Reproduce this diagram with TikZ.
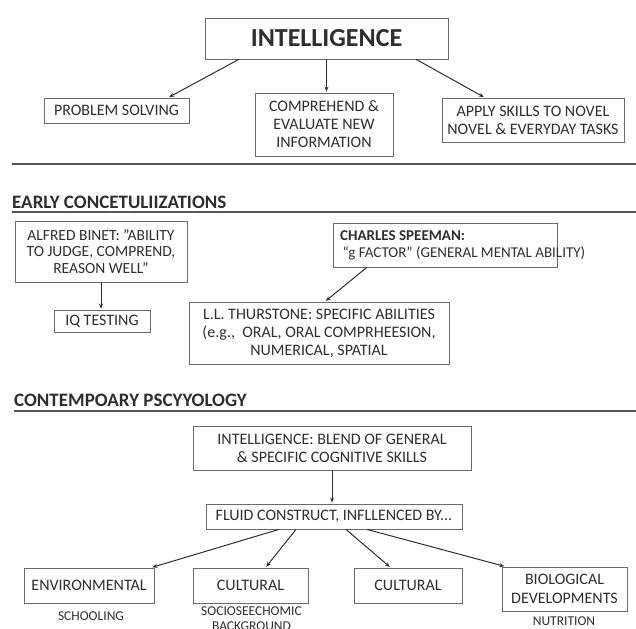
\documentclass[tikz,border=0pt]{standalone}
\usepackage{fontspec}
\setmainfont{Carlito}
\usetikzlibrary{calc,arrows.meta}
\definecolor{ink}{HTML}{2E2E2E}
\definecolor{frame}{HTML}{6A6A6A}
\definecolor{rulec}{HTML}{575757}
\begin{document}
\begin{tikzpicture}[x=1pt,y=-1pt,
  box/.style={draw=frame,line width=0.9pt,inner sep=0pt,align=center,text=ink,
    font=\fontsize{16}{18}\selectfont},
  sub/.style={inner sep=0pt,align=center,text=ink,font=\fontsize{13.5}{15}\selectfont},
  head/.style={inner sep=0pt,anchor=base west,text=ink,font=\bfseries\fontsize{19}{22}\selectfont},
  link/.style={draw=ink,line width=1pt,shorten >=1pt,-{Stealth[length=5pt,width=4pt]}},
  sectionrule/.style={draw=rulec,line width=2pt}]
\useasboundingbox (0,0) rectangle (636,628);

% top: definition of intelligence
\node[box,minimum width=243pt,minimum height=41pt,font=\bfseries\fontsize{26}{30}\selectfont]
  (intel) at (326.5,38.5) {INTELLIGENCE};
\node[box,minimum width=145pt,minimum height=25pt] (prob) at (116.5,110.5) {PROBLEM SOLVING};
\node[box,minimum width=138pt,minimum height=63pt] (comp) at (324,124.5)
  {COMPREHEND \&\\EVALUATE NEW\\INFORMATION};
\node[box,minimum width=182pt,minimum height=44pt] (apply) at (533,120)
  {APPLY SKILLS TO NOVEL\\NOVEL \& EVERYDAY TASKS};

\draw[link] ($(intel.south west)!0.14!(intel.south east)$) -- ($(prob.north west)!0.855!(prob.north east)$);
\draw[link] (intel.south) -- (intel.south |- comp.north);
\draw[link] ($(intel.south west)!0.868!(intel.south east)$) -- ($(apply.north west)!0.236!(apply.north east)$);

\draw[sectionrule] (12,164) -- (636,164);

% early conceptualizations
\node[head] (early) at (12,208) {EARLY CONCETULIIZATIONS};
\draw[sectionrule] (12,212) -- (636,212);

\node[box,minimum width=172pt,minimum height=61pt,font=\fontsize{15.5}{16.5}\selectfont]
  (binet) at (101,251.5)
  {ALFRED BINET: ''ABILITY\\TO JUDGE, COMPREND,\\REASON WELL''};
\node[box,minimum width=96pt,minimum height=22pt] (iq) at (102,321) {IQ TESTING};
\draw[link] (binet.south) -- (binet.south |- iq.north);

\node[box,minimum width=224pt,minimum height=44pt] (spebox) at (445,245) {};
\node[inner sep=0pt,anchor=west,align=left,text=ink,font=\fontsize{15}{17}\selectfont]
  (spetext) at (340,245) {\textbf{CHARLES SPEEMAN:}\\\,``g FACTOR'' (GENERAL MENTAL ABILITY)};

\node[box,minimum width=260pt,minimum height=62pt] (thur) at (319,333)
  {L.L. THURSTONE: SPECIFIC ABILITIES\\(e.g.,\ \ ORAL, ORAL COMPRHEESION,\\NUMERICAL, SPATIAL};
\draw[link] ($(spebox.south west)!0.152!(spebox.south east)$) -- ($(thur.north west)!0.523!(thur.north east)$);

% contemporary psychology
\node[head] (contemp) at (14,406) {CONTEMPOARY PSCYYOLOGY};
\draw[sectionrule] (14,411) -- (636,411);

\node[box,minimum width=278pt,minimum height=44pt] (blend) at (332,448)
  {INTELLIGENCE: BLEND OF GENERAL\\\& SPECIFIC COGNITIVE SKILLS};
\node[box,minimum width=256pt,minimum height=25pt] (fluid) at (334,516.5)
  {FLUID CONSTRUCT, INFLLENCED BY...};
\draw[link] (blend.south) -- (blend.south |- fluid.north);

\node[box,minimum width=130pt,minimum height=35pt] (env) at (89,585.5) {ENVIRONMENTAL};
\node[box,minimum width=115pt,minimum height=35pt] (cultA) at (250.5,585.5) {CULTURAL};
\node[box,minimum width=108pt,minimum height=35pt] (cultB) at (408,585.5) {CULTURAL};
\node[box,minimum width=125pt,minimum height=44pt,font=\fontsize{16}{19}\selectfont]
  (bio) at (564.5,589) {BIOLOGICAL\\DEVELOPMENTS};

\draw[link] ($(fluid.south west)!0.285!(fluid.south east)$) -- ($(env.north west)!0.977!(env.north east)$);
\draw[link] ($(fluid.south west)!0.352!(fluid.south east)$) -- ($(cultA.north west)!0.63!(cultA.north east)$);
\draw[link] ($(fluid.south west)!0.547!(fluid.south east)$) -- ($(cultB.north west)!0.34!(cultB.north east)$);
\draw[link] ($(fluid.south west)!0.629!(fluid.south east)$) -- ($(bio.north west)!0.03!(bio.north east)$);

\node[sub] (school) at (91,616) {SCHOOLING};
\node[sub,anchor=north] (socio) at (251.5,607) {SOCIOSEECHOMIC\\BACKGROUND};
\node[sub] (nutri) at (564,621) {NUTRITION};
\end{tikzpicture}
\end{document}
